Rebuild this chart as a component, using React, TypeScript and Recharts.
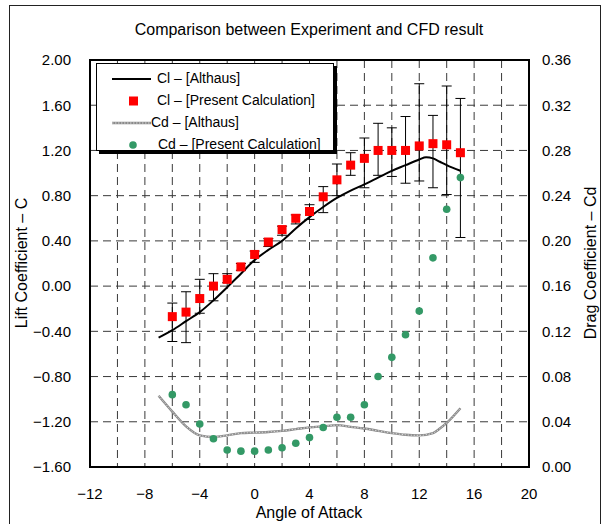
import React from 'react';
import {
  ComposedChart,
  Line,
  Scatter,
  XAxis,
  YAxis,
  CartesianGrid,
  ErrorBar,
  Legend,
  ReferenceArea,
} from 'recharts';

// present calculation, one value per degree
const angles = [-6, -5, -4, -3, -2, -1, 0, 1, 2, 3, 4, 5, 6, 7, 8, 9, 10, 11, 12, 13, 14, 15];
const clPresent = [-0.27, -0.23, -0.11, 0.0, 0.06, 0.17, 0.28, 0.39, 0.5, 0.6, 0.66, 0.79, 0.94, 1.07, 1.13, 1.2, 1.2, 1.2, 1.24, 1.26, 1.25, 1.18];
const clErrLow = [0.22, 0.27, 0.13, 0.13, 0.03, 0.03, 0.07, 0.04, 0.05, 0.05, 0.07, 0.14, 0.14, 0.09, 0.26, 0.22, 0.23, 0.29, 0.31, 0.39, 0.44, 0.75];
const clErrHigh = [0.12, 0.18, 0.17, 0.11, 0.05, 0.03, 0.03, 0.03, 0.03, 0.03, 0.06, 0.09, 0.14, 0.11, 0.18, 0.24, 0.2, 0.3, 0.55, 0.25, 0.52, 0.48];
const cdPresent = [0.064, 0.055, 0.038, 0.025, 0.015, 0.014, 0.014, 0.015, 0.017, 0.021, 0.026, 0.035, 0.044, 0.044, 0.055, 0.08, 0.097, 0.117, 0.138, 0.185, 0.228, 0.256];

// Althaus curves
const althausClAngles = [-7, -6, -5, -4, -3, -2, -1, 0, 1, 2, 3, 4, 5, 6, 7, 8, 9, 10, 11, 12, 12.5, 13, 13.5, 14, 15];
const althausCl = [-0.455, -0.39, -0.31, -0.23, -0.126, -0.01, 0.11, 0.23, 0.32, 0.4, 0.51, 0.61, 0.7, 0.78, 0.845, 0.9, 0.96, 1.02, 1.07, 1.12, 1.14, 1.13, 1.1, 1.07, 1.02];
const althausCdAngles = [-7, -6, -5, -4, -3, -2, -1, 0, 1, 2, 3, 4, 5, 6, 7, 8, 9, 10, 11, 12, 13, 13.5, 14, 15];
const althausCd = [0.063, 0.049, 0.036, 0.028, 0.0265, 0.028, 0.03, 0.0304, 0.031, 0.032, 0.0335, 0.035, 0.036, 0.037, 0.0355, 0.034, 0.032, 0.03, 0.0285, 0.028, 0.03, 0.034, 0.039, 0.052];

const xTicks = [-12, -10, -8, -6, -4, -2, 0, 2, 4, 6, 8, 10, 12, 14, 16, 18, 20];
const clTicks = [-1.6, -1.2, -0.8, -0.4, 0, 0.4, 0.8, 1.2, 1.6, 2.0];
const cdTicks = [0, 0.04, 0.08, 0.12, 0.16, 0.2, 0.24, 0.28, 0.32, 0.36];

const legendItems = [
  { label: 'Cl – [Althaus]', kind: 'line', textLeft: 60 },
  { label: 'Cl – [Present Calculation]', kind: 'square', textLeft: 60 },
  { label: 'Cd – [Althaus]', kind: 'grayline', textLeft: 54 },
  { label: 'Cd – [Present Calculation]', kind: 'dot', textLeft: 61 },
];

const clPresentData = angles.map((x, i) => ({ x, y: clPresent[i], err: [clErrLow[i], clErrHigh[i]] }));
const cdPresentData = angles.map((x, i) => ({ x, y: cdPresent[i] }));
const clAlthausData = althausClAngles.map((x, i) => ({ x, y: althausCl[i] }));
const cdAlthausData = althausCdAngles.map((x, i) => ({ x, y: althausCd[i] }));

const FONT = '"Liberation Sans", Arial, sans-serif';
const minus = (s: string) => s.replace('-', '−');

const tickStyle = { fill: '#000', fontSize: 15 };

const LegendSymbol = ({ kind }: { kind: string }) => (
  <svg width={60} height={12} style={{ position: 'absolute', left: 0, top: 5 }}>
    {kind === 'line' && <line x1={15} y1={6} x2={54} y2={6} stroke="#000" strokeWidth={2} />}
    {kind === 'grayline' && (
      <g>
        <line x1={15} y1={6} x2={54} y2={6} stroke="#8a8a8a" strokeWidth={2.4} />
        <line x1={15} y1={6} x2={54} y2={6} stroke="#e2e2e2" strokeWidth={0.9} strokeDasharray="1.5 1.5" />
      </g>
    )}
    {kind === 'square' && <rect x={32} y={1.5} width={9} height={9} fill="#ff0000" />}
    {kind === 'dot' && <circle cx={36} cy={6} r={3.8} fill="#339966" />}
  </svg>
);

const renderLegend = () => (
  <div
    style={{
      width: 238,
      height: 88,
      boxSizing: 'border-box',
      border: '1px solid #000',
      boxShadow: '3px 3px 0 #000',
      background: '#fff',
      paddingTop: 4,
      fontFamily: FONT,
      fontSize: 14,
      color: '#000',
    }}
  >
    {legendItems.map((item) => (
      <div key={item.label} style={{ position: 'relative', height: 22 }}>
        <LegendSymbol kind={item.kind} />
        <span style={{ position: 'absolute', left: item.textLeft, top: 2, whiteSpace: 'nowrap' }}>{item.label}</span>
      </div>
    ))}
  </div>
);

const App: React.FC = () => {
  return (
    <div
      style={{
        position: 'absolute',
        left: 0,
        top: 0,
        width: 605,
        height: 524,
        overflow: 'hidden',
        background: '#fff',
        fontFamily: FONT,
      }}
    >
      {/* outer frame of the chart area */}
      <div
        style={{
          position: 'absolute',
          left: 9,
          top: 5,
          width: 592,
          height: 530,
          boxSizing: 'border-box',
          border: '1.5px solid #222',
        }}
      />
      <div style={{ position: 'absolute', left: 0, top: 21, width: 618, textAlign: 'center', fontSize: 16 }}>
        Comparison between Experiment and CFD result
      </div>
      <div
        style={{
          position: 'absolute',
          left: 22,
          top: 263,
          transform: 'translate(-50%, -50%) rotate(-90deg)',
          whiteSpace: 'nowrap',
          fontSize: 16,
        }}
      >
        Lift Coefficient – C
      </div>
      <div
        style={{
          position: 'absolute',
          left: 591,
          top: 263,
          transform: 'translate(-50%, -50%) rotate(-90deg)',
          whiteSpace: 'nowrap',
          fontSize: 16,
        }}
      >
        Drag Coefficient – Cd
      </div>
      <div style={{ position: 'absolute', left: 0, top: 504, width: 618, textAlign: 'center', fontSize: 16 }}>
        Angle of Attack
      </div>

      <div style={{ position: 'absolute', left: 0, top: 0 }}>
        <ComposedChart width={605} height={524} margin={{ top: 60, right: 30, bottom: 27, left: 30 }}>
          <CartesianGrid yAxisId="left" stroke="#3a3a3a" strokeDasharray="8 5" />
          <XAxis
            dataKey="x"
            type="number"
            domain={[-12, 20]}
            ticks={xTicks}
            interval={0}
            height={30}
            axisLine={false}
            tickLine={false}
            tickSize={0}
            tickMargin={21}
            tick={tickStyle}
            tickFormatter={(v: number) => (v % 4 === 0 ? minus(String(v)) : '')}
          />
          <YAxis
            yAxisId="left"
            dataKey="y"
            type="number"
            domain={[-1.6, 2.0]}
            ticks={clTicks}
            interval={0}
            width={60}
            axisLine={false}
            tickLine={false}
            tickSize={0}
            tickMargin={19}
            tick={tickStyle}
            tickFormatter={(v: number) => minus(v.toFixed(2))}
          />
          <YAxis
            yAxisId="right"
            orientation="right"
            dataKey="y"
            type="number"
            domain={[0, 0.36]}
            ticks={cdTicks}
            interval={0}
            width={46}
            axisLine={false}
            tickLine={false}
            tickSize={0}
            tickMargin={13}
            tick={tickStyle}
            tickFormatter={(v: number) => v.toFixed(2)}
          />
          <Legend
            layout="vertical"
            align="center"
            verticalAlign="middle"
            content={renderLegend}
            wrapperStyle={{ left: 96, top: 63, width: 'auto', height: 'auto' }}
          />
          <Line
            yAxisId="right"
            data={cdAlthausData}
            dataKey="y"
            type="monotone"
            stroke="#8a8a8a"
            strokeWidth={2.4}
            dot={false}
            activeDot={false}
            isAnimationActive={false}
          />
          <Line
            yAxisId="right"
            data={cdAlthausData}
            dataKey="y"
            type="monotone"
            stroke="#e2e2e2"
            strokeWidth={0.9}
            strokeDasharray="1.5 1.5"
            dot={false}
            activeDot={false}
            isAnimationActive={false}
          />
          <Line
            yAxisId="left"
            data={clAlthausData}
            dataKey="y"
            type="monotone"
            stroke="#000"
            strokeWidth={2}
            dot={false}
            activeDot={false}
            isAnimationActive={false}
          />
          <Scatter
            yAxisId="left"
            data={clPresentData}
            dataKey="y"
            isAnimationActive={false}
            shape={(p: any) => <rect x={p.cx - 4.5} y={p.cy - 4.5} width={9} height={9} fill="#ff0000" />}
          >
            <ErrorBar dataKey="err" direction="y" width={5} stroke="#000" strokeWidth={1} isAnimationActive={false} />
          </Scatter>
          <Scatter
            yAxisId="right"
            data={cdPresentData}
            dataKey="y"
            isAnimationActive={false}
            shape={(p: any) => <circle cx={p.cx} cy={p.cy} r={3.8} fill="#339966" />}
          />
          <ReferenceArea
            yAxisId="left"
            x1={-12}
            x2={20}
            y1={-1.6}
            y2={2.0}
            fill="none"
            fillOpacity={0}
            stroke="#000"
            strokeWidth={2}
          />
        </ComposedChart>
      </div>
    </div>
  );
};

export default App;
